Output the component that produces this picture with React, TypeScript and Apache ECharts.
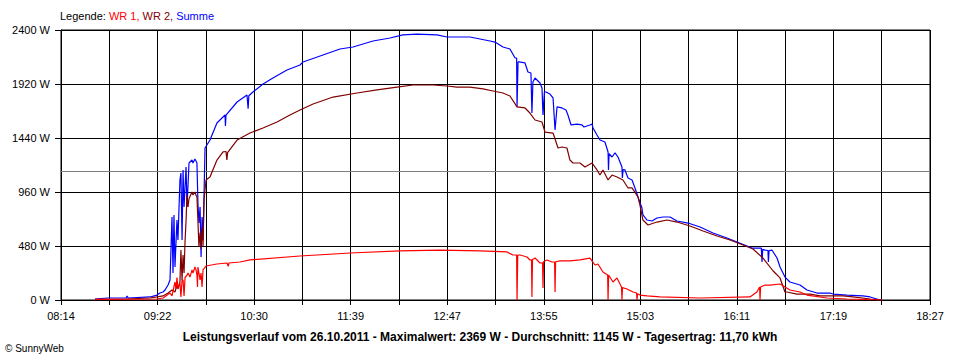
import React, { useEffect, useRef } from 'react';
import * as echarts from 'echarts';

// X axis: minutes after 08:14 (axis spans 08:14 .. 18:27)
const timeLabels = ['08:14', '09:22', '10:30', '11:39', '12:47', '13:55', '15:03', '16:11', '17:19', '18:27'];
const spanMinutes = 613;
const gridSteps = 18;
const yMax = 2400;
const yStep = 480;
const averageW = 1145;

const legendParts = ['Legende: ', 'WR 1, ', 'WR 2, ', 'Summe'];
const footerTitle = 'Leistungsverlauf vom 26.10.2011 - Maximalwert: 2369 W - Durchschnitt: 1145 W - Tagesertrag: 11,70 kWh';
const copyright = '© SunnyWeb';

// [minutes after 08:14, watts]
const summe: [number, number][] = [
  [24, 9], [33, 18], [46, 18], [46.6, 36], [47.5, 18], [62.8, 27], [67.7, 44], [69.8, 62], [72, 71], [73.4, 89],
  [75.5, 133], [76.9, 178], [78.3, 738], [79.0, 240], [79.7, 756], [80.4, 293], [81.8, 711], [82.5, 533],
  [83.9, 1067], [84.6, 1129], [85.4, 533], [86.1, 1156], [86.8, 827], [88.2, 1182], [88.9, 827], [90.3, 1218],
  [92.4, 1244], [93.1, 1218], [94.5, 1253], [95.9, 1218], [96.6, 862], [97.3, 684], [98.1, 827], [98.8, 382],
  [99.5, 738], [100.2, 533], [101.6, 1351], [105.1, 1422], [110.0, 1573], [115.7, 1644], [116.0, 1547],
  [116.4, 1644], [124.2, 1760], [131.2, 1822], [132, 1700], [132.5, 1815], [135.4, 1849], [142.5, 1920],
  [149.5, 1973], [159.4, 2044], [168.6, 2089], [170.7, 2116], [184.8, 2178], [196.8, 2231], [206.0, 2249],
  [220.1, 2302], [232.1, 2329], [241.2, 2356], [251.1, 2364], [265.2, 2356], [272.3, 2338], [279.3, 2338],
  [288.5, 2338], [295.6, 2320], [302.6, 2302], [306.1, 2293], [311.8, 2249], [316.7, 2231], [320.3, 2151],
  [321.4, 2151], [321.7, 1716], [322.4, 2116], [323.1, 2116], [327.3, 2107], [329.4, 2027], [331.5, 2018],
  [332.2, 1662], [332.9, 1938], [334.4, 1973], [337.9, 1929], [339.3, 1884], [340.0, 1644], [341, 1850],
  [342.1, 1849], [344.9, 1831], [347.1, 1796], [348.5, 1511], [349.9, 1716], [353.4, 1707], [356.2, 1689],
  [357.6, 1644], [359.8, 1556], [364.0, 1564], [367.5, 1556], [368.9, 1538], [373.1, 1556], [374.6, 1564],
  [375.3, 1529], [378.1, 1467], [380.2, 1422], [383.7, 1404], [385.9, 1316], [386.2, 1156], [386.6, 1300],
  [388.7, 1271], [390.8, 1307], [392.9, 1271], [395.7, 1182], [396.0, 1084], [396.5, 1160], [397.8, 1156],
  [400.0, 1084], [402.8, 1067], [404.9, 996], [407.0, 916], [409.8, 818], [410.5, 756], [413.4, 711],
  [416.9, 702], [420.4, 729], [424.7, 738], [429.6, 738], [434.5, 702], [442.3, 684], [450.8, 649],
  [459.9, 596], [469.8, 551], [476.9, 516], [483.9, 480], [487.4, 462], [494.0, 462], [494.5, 338],
  [495.0, 450], [496.6, 444], [498.7, 440], [499, 338], [499.5, 440], [501.5, 444], [505.1, 373], [507.2, 293],
  [510.7, 204], [514.2, 160], [521.3, 133], [526.2, 89], [533.3, 62], [542.5, 62], [544.6, 53], [554.4, 44],
  [565.7, 36], [570.7, 27], [575.6, 9], [579.1, 0],
];

const wr2: [number, number][] = [
  [24, 5], [46, 9], [62.8, 18], [67.7, 27], [72, 36], [75.5, 62], [78.3, 89], [80.4, 71], [81.8, 133],
  [82.5, 98], [83.9, 160], [84.6, 444], [85.4, 178], [86.1, 400], [86.8, 240], [87.5, 520], [88.2, 700],
  [88.9, 933], [89.6, 827], [90.3, 900], [92.4, 960], [93.1, 933], [94.5, 960], [95.2, 933], [95.9, 916],
  [96.6, 700], [97.3, 471], [98.1, 600], [98.8, 453], [99.5, 644], [100.2, 480], [100.9, 889], [102.3, 1067],
  [105.1, 1093], [110.0, 1244], [114.3, 1316], [116.4, 1320], [117.0, 1244], [117.5, 1310], [124.2, 1422],
  [133.3, 1484], [142.5, 1529], [152.4, 1582], [161.5, 1644], [168.6, 1689], [177.8, 1742], [191.9, 1804],
  [208.8, 1840], [222.9, 1867], [237.0, 1893], [248.3, 1911], [262.4, 1911], [272.3, 1902], [279.3, 1893],
  [288.5, 1893], [297.7, 1876], [304.7, 1858], [311.8, 1840], [316.7, 1813], [321.7, 1716], [327.3, 1707],
  [330.8, 1662], [334.4, 1600], [339.3, 1582], [341.4, 1493], [347.1, 1484], [350.6, 1351], [353.4, 1360],
  [356.9, 1351], [359.0, 1244], [361.2, 1218], [366.1, 1218], [369.6, 1182], [374.6, 1218], [378.1, 1156],
  [380.2, 1111], [382.3, 1156], [385.9, 1067], [388.7, 1111], [392.2, 1093], [396.4, 1067], [400.0, 996],
  [402.8, 996], [407.0, 916], [408.4, 844], [410.5, 711], [414.1, 667], [420.4, 693], [427.5, 711],
  [434.5, 693], [443.7, 658], [452.9, 613], [462.8, 569], [471.9, 533], [481.1, 489], [488.1, 453],
  [495.2, 373], [502.2, 260], [507.2, 196], [510.7, 71], [512.1, 71], [519.2, 53], [528.3, 53], [535.4, 36],
  [542.5, 36], [551.6, 36], [558.7, 27], [570.7, 9], [579.1, 0],
];

const wr1: [number, number][] = [
  [24, 5], [67.7, 9], [72, 18], [76.9, 62], [78.3, 36], [80.4, 160], [81.1, 98], [81.8, 200], [82.5, 107],
  [83.9, 151], [84.6, 27], [85.4, 180], [86.1, 178], [86.8, 36], [87.5, 200], [88.9, 222], [89.6, 240],
  [91.0, 204], [92.4, 267], [93.1, 240], [94.5, 293], [95.2, 270], [95.9, 222], [96.3, 116], [96.6, 293],
  [97.3, 240], [98.1, 178], [98.8, 240], [99.5, 116], [100.2, 270], [101.6, 290], [102.3, 302], [110.0, 320],
  [117.1, 329], [118, 300], [118.5, 329], [126.3, 338], [133.3, 356], [168.6, 391], [203.9, 418], [239.1, 436],
  [267.3, 444], [295.6, 436], [314.6, 427], [318.8, 400], [321.4, 400], [321.7, 0], [322.2, 400], [323.8, 400],
  [328.7, 382], [330.8, 356], [331.9, 356], [332.2, 27], [332.6, 360], [334.4, 373], [337.9, 329], [339.7, 330],
  [340.0, 107], [340.4, 340], [342.8, 356], [346.4, 338], [348.2, 338], [348.5, 71], [348.9, 340], [352.0, 347],
  [359.0, 347], [366.1, 356], [373.1, 373], [376.7, 311], [378.8, 320], [382.3, 249], [385.6, 222], [385.9, 0],
  [386.3, 222], [389.4, 160], [392.2, 196], [395.4, 116], [395.7, 0], [396.1, 110], [399.3, 98], [403.5, 71],
  [406.0, 62], [406.3, 0], [406.7, 55], [408.4, 44], [413.4, 36], [422.5, 27], [450.8, 18], [486.0, 27],
  [490.9, 71], [492.8, 116], [493.1, 0], [493.5, 116], [496.6, 133], [500.1, 133], [507.2, 142], [510.7, 116],
  [514.2, 89], [521.3, 71], [526.2, 44], [540.3, 18], [554.4, 9], [579.1, 0],
];

const FONT = '"Liberation Sans", Arial, sans-serif';

export default function App() {
  const ref = useRef<HTMLDivElement>(null);
  useEffect(() => {
    if (!ref.current) return;
    const chart = echarts.init(ref.current, null, { renderer: 'svg' });
    const step = spanMinutes / gridSteps;
    chart.setOption({
      animation: false,
      backgroundColor: '#ffffff',
      textStyle: { fontFamily: FONT },
      grid: {
        left: 61, top: 30, width: 869, height: 270,
        show: true, borderColor: '#000000', borderWidth: 1, backgroundColor: 'transparent',
        outerBoundsMode: 'none', containLabel: false,
      },
      xAxis: {
        type: 'value', min: 0, max: spanMinutes, interval: step,
        axisLine: { show: true, lineStyle: { color: '#000000', width: 1 } },
        axisTick: { show: true, length: 5, lineStyle: { color: '#000000' } },
        splitLine: { show: true, lineStyle: { color: '#000000', width: 1 } },
        axisLabel: {
          color: '#000000', fontSize: 11, fontFamily: FONT, margin: 10, showMaxLabel: true, showMinLabel: true,
          formatter: (v: number) => {
            const k = Math.round(v / step);
            return k % 2 === 0 ? (timeLabels[k / 2] ?? '') : '';
          },
        },
      },
      yAxis: {
        type: 'value', min: 0, max: yMax, interval: yStep,
        axisLine: { show: true, lineStyle: { color: '#000000', width: 1 } },
        axisTick: { show: true, length: 6, lineStyle: { color: '#000000' } },
        splitLine: { show: true, lineStyle: { color: '#000000', width: 1 } },
        axisLabel: {
          color: '#000000', fontSize: 11, fontFamily: FONT, margin: 11,
          formatter: (v: number) => `${Math.round(v)} W`,
        },
      },
      series: [
        {
          name: 'Summe', type: 'line', data: summe, showSymbol: false, symbol: 'none',
          lineStyle: { color: '#0000ff', width: 1.2 }, z: 2,
          markLine: {
            silent: true, symbol: ['none', 'none'], label: { show: false },
            lineStyle: { color: '#808080', width: 1, type: 'solid' },
            data: [{ yAxis: averageW }], z: 1,
          },
        },
        {
          name: 'WR 2', type: 'line', data: wr2, showSymbol: false, symbol: 'none',
          lineStyle: { color: '#800000', width: 1.2 }, z: 3,
        },
        {
          name: 'WR 1', type: 'line', data: wr1, showSymbol: false, symbol: 'none',
          lineStyle: { color: '#ff0000', width: 1.2 }, z: 4,
        },
      ],
      graphic: [
        {
          type: 'text', left: 60, top: 10,
          style: {
            text: `{k|${legendParts[0]}}{a|${legendParts[1]}}{b|${legendParts[2]}}{c|${legendParts[3]}}`,
            font: `11px ${FONT}`,
            rich: {
              k: { fill: '#000000', fontSize: 11, fontFamily: FONT },
              a: { fill: '#ff0000', fontSize: 11, fontFamily: FONT },
              b: { fill: '#800000', fontSize: 11, fontFamily: FONT },
              c: { fill: '#0000ff', fontSize: 11, fontFamily: FONT },
            },
          },
        },
        {
          type: 'text', x: 480, y: 337,
          style: {
            text: footerTitle, fill: '#000000', font: `bold 12px ${FONT}`,
            textAlign: 'center', textVerticalAlign: 'middle',
          },
        },
        {
          type: 'text', x: 5, y: 348,
          style: {
            text: copyright, fill: '#000000', font: `10px ${FONT}`,
            textAlign: 'left', textVerticalAlign: 'middle',
          },
        },
      ],
    });
    return () => chart.dispose();
  }, []);
  return <div ref={ref} style={{ position: 'fixed', left: 0, top: 0, width: 960, height: 360, background: '#fff' }} />;
}
